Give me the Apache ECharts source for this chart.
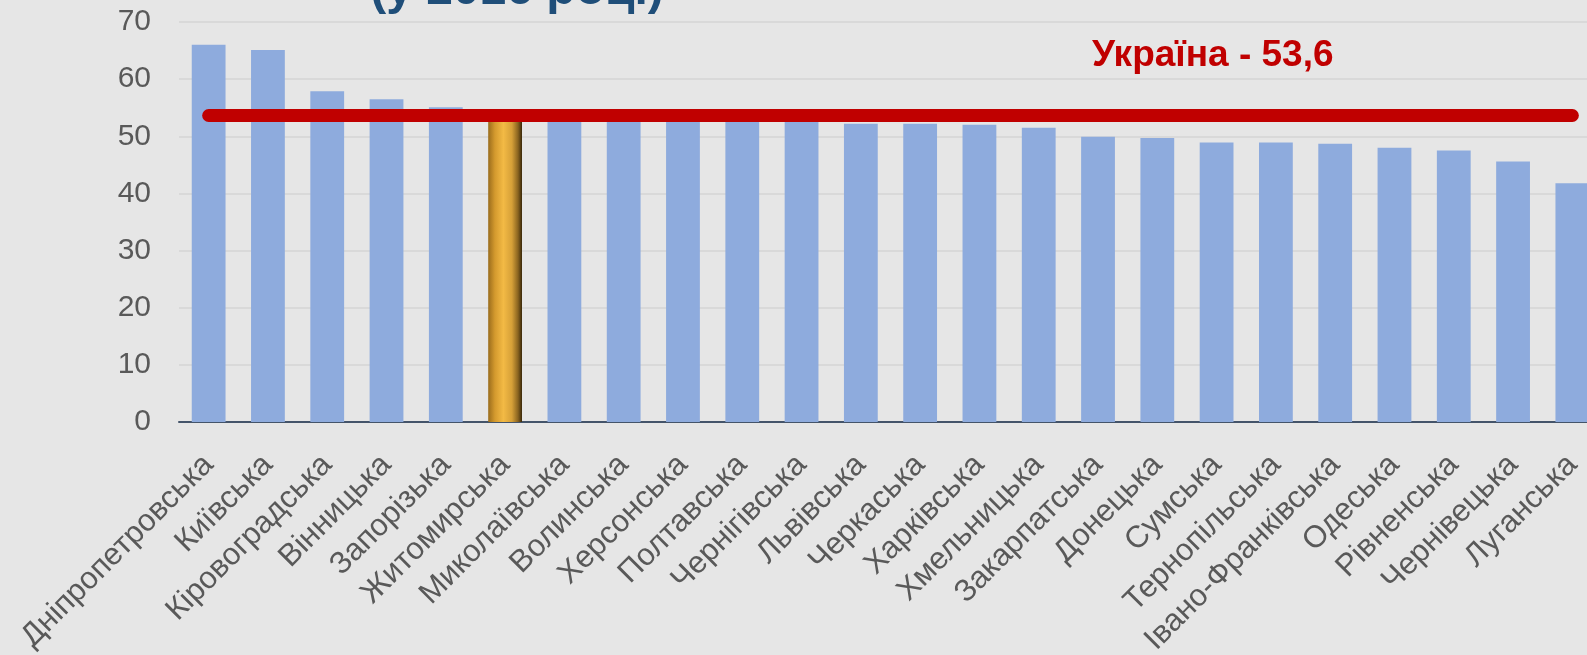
<!DOCTYPE html>
<html>
<head>
<meta charset="utf-8">
<script src="https://cdn.jsdelivr.net/npm/echarts@6/dist/echarts.min.js"></script>
<style>
    html, body { margin: 0; padding: 0; background: #e6e6e6; }
    #main { width: 1587px; height: 655px; }
</style>
</head>
<body>
<div id="main"></div>
<script>
// дані
var regions = ['Дніпропетровська', 'Київська', 'Кіровоградська', 'Вінницька', 'Запорізька',
    'Житомирська', 'Миколаївська', 'Волинська', 'Херсонська', 'Полтавська', 'Чернігівська',
    'Львівська', 'Черкаська', 'Харківська', 'Хмельницька', 'Закарпатська', 'Донецька',
    'Сумська', 'Тернопільська', 'Івано-Франківська', 'Одеська', 'Рівненська', 'Чернівецька',
    'Луганська'];
var values = [66.0, 65.1, 57.9, 56.5, 55.1,
    53.4, 53.3, 53.1, 53.0, 52.9, 52.7,
    52.2, 52.2, 52.0, 51.5, 49.9, 49.7,
    48.9, 48.9, 48.7, 48.0, 47.5, 45.6,
    41.8];
var highlightRegion = 'Житомирська';
var ukraineAvg = 53.6;
var ukraineLabel = 'Україна - 53,6';
var titleText = '(у 2016 році)';
var yTicks = [0, 10, 20, 30, 40, 50, 60, 70];

var myChart = echarts.init(document.getElementById('main'));

// золотий стовпчик
var goldColor = new echarts.graphic.LinearGradient(0, 0, 1, 0, [
    {offset: 0, color: '#9a6c1c'},
    {offset: 0.2, color: '#d49a2e'},
    {offset: 0.45, color: '#f3ba45'},
    {offset: 0.7, color: '#d6a038'},
    {offset: 0.88, color: '#8a6420'},
    {offset: 1, color: '#3a290b'}
]);

var barData = values.map(function (v, i) {
    if (regions[i] === highlightRegion) {
        return {value: v, itemStyle: {color: goldColor}};
    }
    return v;
});

var font = '"Liberation Sans", Arial, sans-serif';

var option = {
    backgroundColor: '#e6e6e6',
    animation: false,
    // графік обрізаний праворуч, тому ширина більша за вікно
    grid: {left: 179, width: 1423, top: 22, bottom: 233, outerBoundsMode: 'none'},
    xAxis: {
        type: 'category',
        data: regions,
        axisLine: {lineStyle: {color: '#44546a', width: 2}},
        axisTick: {show: false},
        axisLabel: {
            rotate: 45,
            interval: 0,
            margin: 38,
            color: '#595959',
            fontSize: 31,
            fontFamily: font
        }
    },
    yAxis: {
        type: 'value',
        min: yTicks[0],
        max: yTicks[yTicks.length - 1],
        interval: 10,
        axisLine: {show: false},
        axisTick: {show: false},
        axisLabel: {color: '#595959', fontSize: 30, fontFamily: font, margin: 28},
        splitLine: {lineStyle: {color: '#d5d5d5', width: 1.5}}
    },
    series: [{
        type: 'bar',
        data: barData,
        barCategoryGap: '43%',
        itemStyle: {color: '#8eabdd'},
        markLine: {
            silent: true,
            symbol: ['none', 'none'],
            label: {show: false},
            lineStyle: {color: '#c00000', width: 13, type: 'solid', cap: 'round'},
            data: [[
                {xAxis: regions[0], yAxis: ukraineAvg},
                {xAxis: regions[regions.length - 1], yAxis: ukraineAvg}
            ]]
        }
    }],
    graphic: [{
        type: 'text',
        x: 517,
        y: -9,
        style: {
            text: titleText,
            fill: '#1f4e79',
            font: 'bold 48px ' + font,
            align: 'center',
            verticalAlign: 'middle'
        }
    }, {
        type: 'text',
        x: 1092,
        y: 56,
        style: {
            text: ukraineLabel,
            fill: '#c00000',
            font: 'bold 37px ' + font,
            align: 'left',
            verticalAlign: 'middle'
        }
    }]
};

myChart.setOption(option);
</script>
</body>
</html>
